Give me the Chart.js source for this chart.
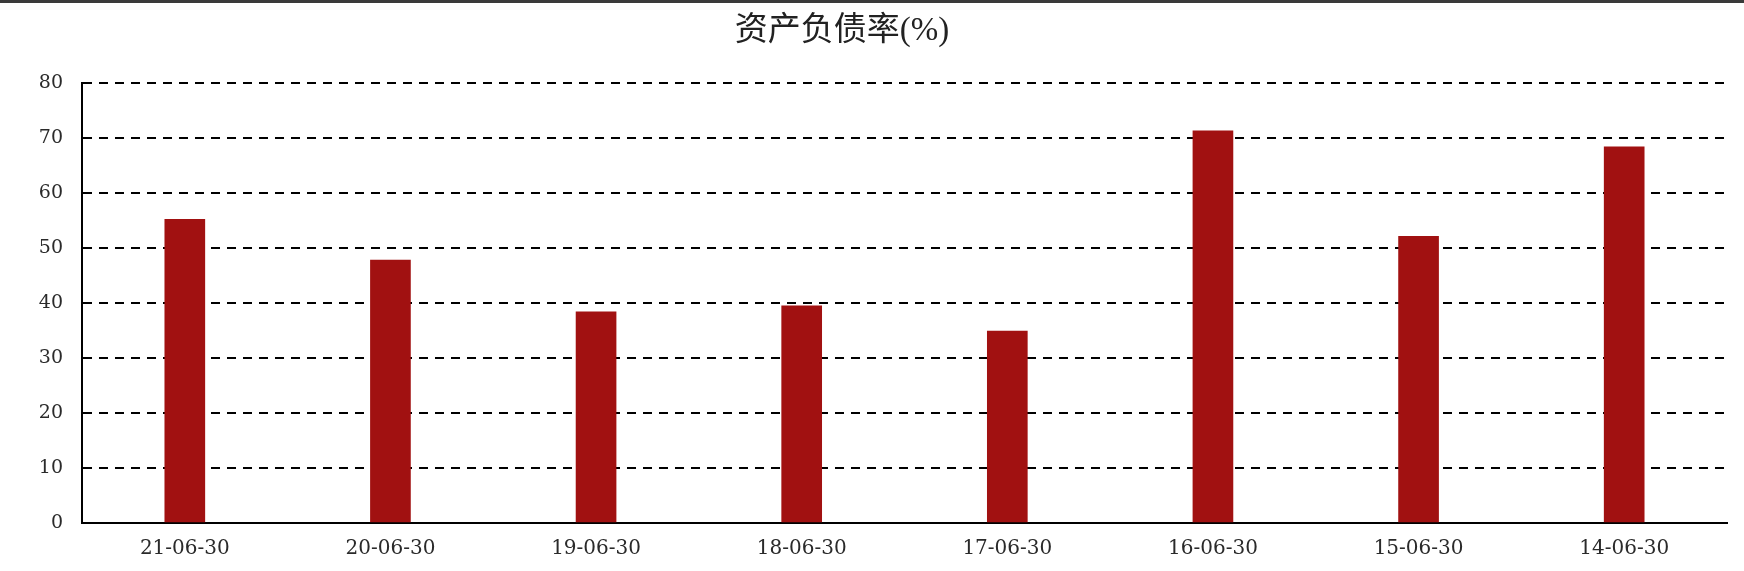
<!DOCTYPE html>
<html>
<head>
<meta charset="utf-8">
<script src="https://cdn.jsdelivr.net/npm/chart.js@4"></script>
<style>
    html, body { margin: 0; padding: 0; background: #fff; }
    #wrap { position: relative; width: 1744px; height: 571px; overflow: hidden; }
    #topline { position: absolute; left: 0; top: 0; width: 1744px; height: 3px; background: #3a3a3a; }
    #title {
        position: absolute; left: 0; top: 13px; width: 1684px; text-align: center;
        font-family: "Liberation Serif", "Noto Sans CJK SC", serif; font-size: 33px; line-height: 33px;
        color: #222;
    }
</style>
</head>
<body>
<div id="wrap">
    <canvas id="debtRatioChart" width="1744" height="571"></canvas>
    <div id="topline"></div>
    <div id="title">资产负债率(%)</div>
</div>
<script>
// Chart data
const categories = ['21-06-30', '20-06-30', '19-06-30', '18-06-30', '17-06-30', '16-06-30', '15-06-30', '14-06-30'];
const debtRatio = [55.2, 47.8, 38.4, 39.5, 34.9, 71.3, 52.1, 68.4];
const yTicks = [0, 10, 20, 30, 40, 50, 60, 70, 80];

// Initialize chart when DOM is fully loaded
document.addEventListener('DOMContentLoaded', function() {
    const ctx = document.getElementById('debtRatioChart').getContext('2d');
    new Chart(ctx, {
        type: 'bar',
        data: {
            labels: categories,
            datasets: [{
                label: '资产负债率(%)',
                data: debtRatio,
                backgroundColor: '#a11111',
                borderWidth: 0,
                barThickness: 40
            }]
        },
        options: {
            responsive: false,
            animation: false,
            layout: {
                padding: { top: 83, right: 17, left: 0, bottom: 0 }
            },
            scales: {
                x: {
                    grid: {
                        display: false,
                        drawTicks: false
                    },
                    border: {
                        display: true,
                        color: '#000',
                        width: 2
                    },
                    ticks: {
                        color: '#2a2a2a',
                        padding: 14,
                        maxRotation: 0,
                        font: { family: 'DejaVu Serif', size: 20 }
                    },
                    afterFit: function(scale) {
                        scale.height = 48;
                    }
                },
                y: {
                    min: 0,
                    max: 80,
                    afterBuildTicks: function(scale) {
                        scale.ticks = yTicks.map(v => ({ value: v }));
                    },
                    grid: {
                        color: '#000',
                        lineWidth: 2,
                        drawTicks: false
                    },
                    border: {
                        display: true,
                        color: '#000',
                        width: 2,
                        dash: [9, 7]
                    },
                    ticks: {
                        color: '#2a2a2a',
                        padding: 19,
                        font: { family: 'DejaVu Serif', size: 19 }
                    },
                    afterFit: function(scale) {
                        scale.width = 82;
                    }
                }
            },
            plugins: {
                legend: {
                    display: false
                },
                title: {
                    display: false
                },
                tooltip: {
                    enabled: false
                }
            }
        }
    });
});
</script>
</body>
</html>
